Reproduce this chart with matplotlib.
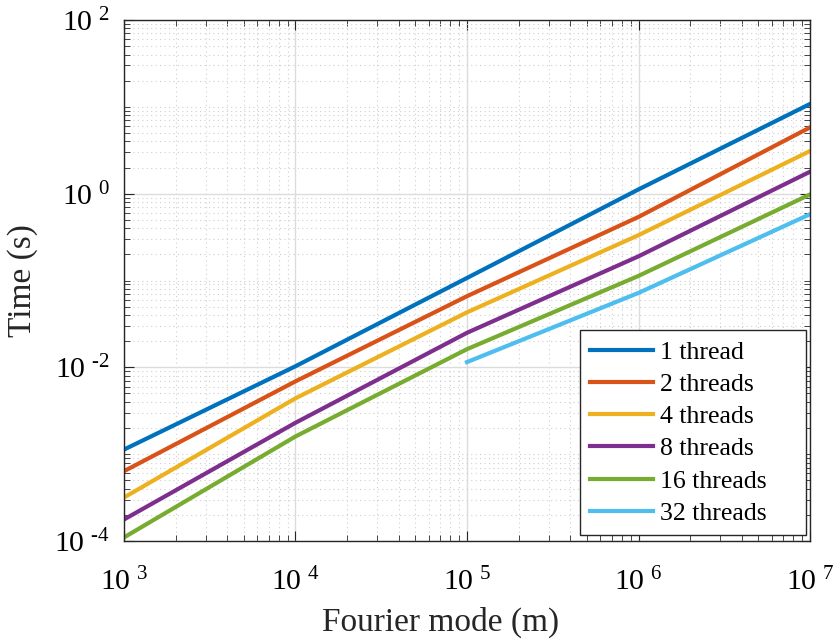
import math
import matplotlib
matplotlib.use('Agg')
import matplotlib.pyplot as plt
from matplotlib.ticker import FixedLocator, LogLocator, FuncFormatter, NullFormatter

plt.rcParams['font.family'] = 'Liberation Serif'
plt.rcParams['mathtext.fontset'] = 'custom'
plt.rcParams['mathtext.rm'] = 'Liberation Serif'

# data
modes = [1e3, 1e4, 1e5, 1e6, 1e7]
t1 = [1.13e-3, 1.03e-2, 0.107, 1.12, 10.8]
t2 = [6.37e-4, 6.9e-3, 0.066, 0.54, 5.8]
t4 = [3.17e-4, 4.4e-3, 0.043, 0.333, 3.1]
t8 = [1.77e-4, 2.3e-3, 0.025, 0.19, 1.79]
t16 = [1.10e-4, 1.6e-3, 0.0162, 0.113, 0.98]
modes32 = [1e5, 1e6, 1e7]
t32 = [0.0115, 0.072, 0.58]
labels = ['1 thread', '2 threads', '4 threads', '8 threads', '16 threads', '32 threads']
colors = ['#0072BD', '#D95319', '#EDB120', '#7E2F8E', '#77AC30', '#4DBEEE']

fig = plt.figure(figsize=(8.4, 6.42), dpi=100)
ax = fig.add_axes([0.1476, 0.1573, 0.8167, 0.8115])

series = [(modes, t1), (modes, t2), (modes, t4), (modes, t8), (modes, t16), (modes32, t32)]
for (x, y), lab, c in zip(series, labels, colors):
    ax.loglog(x, y, color=c, lw=3, label=lab)

ax.set_xlim(1e3, 1e7)
ax.set_ylim(1e-4, 1e2)
ax.xaxis.set_major_locator(FixedLocator([1e3, 1e4, 1e5, 1e6, 1e7]))
ax.yaxis.set_major_locator(FixedLocator([1e-4, 1e-2, 1e0, 1e2]))
ax.yaxis.set_minor_locator(LogLocator(base=10, subs=range(1, 10), numticks=20))
ax.xaxis.set_minor_locator(LogLocator(base=10, subs=range(2, 10), numticks=20))
ax.xaxis.set_minor_formatter(NullFormatter())
ax.yaxis.set_minor_formatter(NullFormatter())

def fmt(v, pos):
    e = int(round(math.log10(v)))
    return r'$\mathregular{10^{\ \text{%d}}}$' % e

ax.xaxis.set_major_formatter(FuncFormatter(fmt))
ax.yaxis.set_major_formatter(FuncFormatter(fmt))

ax.tick_params(which='both', direction='in', top=True, right=True, color='#262626')
ax.tick_params(which='major', length=7, labelsize=21.5)
ax.tick_params(axis='x', which='major', pad=19)
ax.tick_params(axis='y', which='major', pad=10)
ax.tick_params(which='minor', length=4)
ax.grid(True, which='major', color='#dcdcdc', lw=1, ls='-')
ax.grid(True, which='minor', color='#cfcfcf', lw=0.8, ls=(0, (1, 3)))
ax.set_axisbelow(True)
for s in ax.spines.values():
    s.set_color('#262626')
    s.set_linewidth(1)

ax.set_xlabel('Fourier mode (m)', fontsize=24, color='#262626')
ax.xaxis.set_label_coords(0.462, -0.127)
ax.set_ylabel('Time (s)', fontsize=24, color='#262626')
ax.yaxis.set_label_coords(-0.125, 0.5)

leg = ax.legend(loc='lower right', bbox_to_anchor=(0.665, 0.0115, 0.329, 0.3835),
                mode='expand', fontsize=18.5, fancybox=False, framealpha=1,
                edgecolor='#262626', handlelength=2.45, borderaxespad=0,
                labelspacing=0.36, handletextpad=0.27, borderpad=0.4)
leg.get_frame().set_linewidth(1)

fig.savefig('out.png', dpi=100)
